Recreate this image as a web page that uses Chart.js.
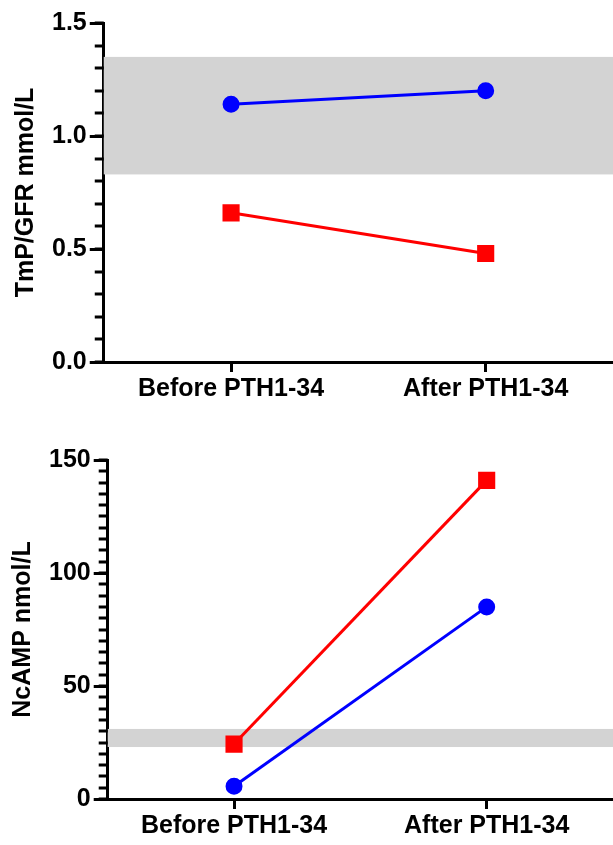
<!DOCTYPE html>
<html>
<head>
<meta charset="utf-8">
<script src="https://cdn.jsdelivr.net/npm/chart.js@4"></script>
<style>
    html, body { margin: 0; padding: 0; background: #fff; }
    #wrap { position: relative; width: 613px; height: 845px; }
    .panel { position: absolute; left: 0; width: 613px; }
    #top-panel { top: 0; height: 415px; }
    #bottom-panel { top: 420px; height: 425px; }
</style>
</head>
<body>
<div id="wrap">
    <div class="panel" id="top-panel"><canvas id="chart-tmp"></canvas></div>
    <div class="panel" id="bottom-panel"><canvas id="chart-camp"></canvas></div>
</div>
<script>
const categories = ['Before PTH1-34', 'After PTH1-34'];

// TmP/GFR panel
const tmpCircle = [1.14, 1.20];
const tmpSquare = [0.66, 0.48];
const tmpRefRange = [0.83, 1.35];
const tmpAxis = [0, 1.5];
const tmpMajorStep = 0.5;
const tmpMinorStep = 0.1;

// NcAMP panel
const campCircle = [5.6, 85];
const campSquare = [24.3, 141];
const campRefRange = [23, 31];
const campAxis = [0, 150];
const campMajorStep = 50;
const campMinorStep = 5;

const BLUE = '#0000ff';
const RED = '#ff0000';
const BAND = '#d3d3d3';
const FONT = { family: '"Liberation Sans", Arial, sans-serif', size: 25, weight: 'bold' };

// grey reference band behind the lines
const bandPlugin = {
    id: 'refBand',
    beforeDatasetsDraw(chart, args, opts) {
        const y = chart.scales.y;
        const area = chart.chartArea;
        const top = y.getPixelForValue(opts.range[1]);
        const bottom = y.getPixelForValue(opts.range[0]);
        const ctx = chart.ctx;
        ctx.save();
        ctx.fillStyle = BAND;
        ctx.fillRect(area.left, top, area.right - area.left, bottom - top);
        ctx.restore();
    }
};

// short minor ticks on the y axis
const minorTickPlugin = {
    id: 'minorTicks',
    afterDraw(chart, args, opts) {
        const y = chart.scales.y;
        const ctx = chart.ctx;
        const x = chart.chartArea.left;
        ctx.save();
        ctx.strokeStyle = '#000';
        ctx.lineWidth = 3;
        const n = Math.round((y.max - y.min) / opts.step);
        for (let i = 0; i <= n; i++) {
            const v = y.min + i * opts.step;
            const py = Math.round(y.getPixelForValue(v));
            ctx.beginPath();
            ctx.moveTo(x, py);
            ctx.lineTo(x - 9, py);
            ctx.stroke();
        }
        ctx.restore();
    }
};

function makeChart(id, opts) {
    const ctx = document.getElementById(id).getContext('2d');
    return new Chart(ctx, {
        type: 'line',
        data: {
            labels: categories,
            datasets: [
                {
                    data: opts.square,
                    borderColor: RED,
                    backgroundColor: RED,
                    borderWidth: 3,
                    pointStyle: 'rect',
                    pointRadius: 10,
                    pointHoverRadius: 10
                },
                {
                    data: opts.circle,
                    borderColor: BLUE,
                    backgroundColor: BLUE,
                    borderWidth: 3,
                    pointStyle: 'circle',
                    pointRadius: 7,
                    pointHoverRadius: 7
                }
            ]
        },
        options: {
            responsive: true,
            maintainAspectRatio: false,
            animation: false,
            layout: { padding: opts.padding, autoPadding: false },
            plugins: {
                legend: { display: false },
                tooltip: { enabled: false },
                refBand: { range: opts.band },
                minorTicks: { step: opts.minor }
            },
            scales: {
                x: {
                    offset: true,
                    grid: { drawOnChartArea: false, drawTicks: true, tickLength: 10, tickWidth: 3, tickColor: '#000', offset: false },
                    border: { display: true, width: 3, color: '#000' },
                    ticks: { color: '#000', font: FONT, padding: 2, maxRotation: 0 }
                },
                y: {
                    min: opts.axis[0],
                    max: opts.axis[1],
                    grid: { drawOnChartArea: false, drawTicks: true, tickLength: 14, tickWidth: 3, tickColor: '#000' },
                    border: { display: true, width: 3, color: '#000' },
                    ticks: {
                        stepSize: opts.major,
                        color: '#000',
                        font: FONT,
                        padding: 3,
                        callback: opts.fmt
                    },
                    title: {
                        display: true,
                        text: opts.title,
                        color: '#000',
                        font: FONT,
                        padding: { top: 0, bottom: 8 }
                    }
                }
            }
        },
        plugins: [bandPlugin, minorTickPlugin]
    });
}

makeChart('chart-tmp', {
    circle: tmpCircle,
    square: tmpSquare,
    band: tmpRefRange,
    axis: tmpAxis,
    major: tmpMajorStep,
    minor: tmpMinorStep,
    title: 'TmP/GFR mmol/L',
    fmt: v => v.toFixed(1),
    padding: { left: 11, top: 23, right: 0, bottom: 9 }
});

makeChart('chart-camp', {
    circle: campCircle,
    square: campSquare,
    band: campRefRange,
    axis: campAxis,
    major: campMajorStep,
    minor: campMinorStep,
    title: 'NcAMP nmol/L',
    fmt: v => v.toFixed(0),
    padding: { left: 8, top: 40, right: 0, bottom: 2 }
});
</script>
</body>
</html>
